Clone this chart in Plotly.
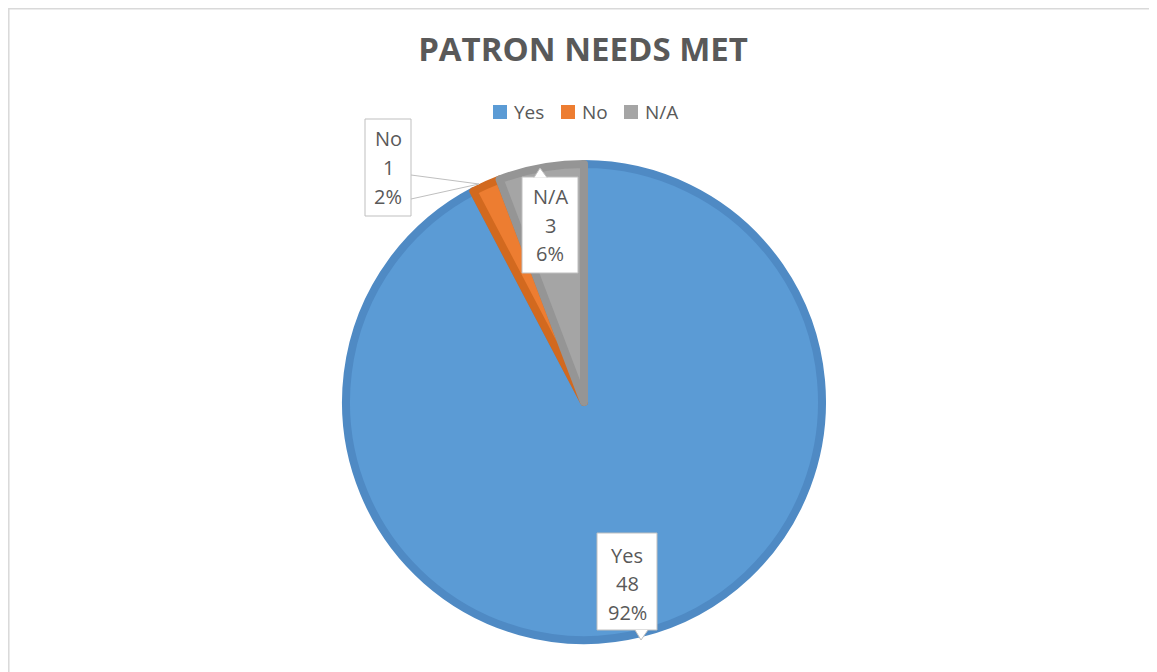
import plotly.graph_objects as go

# ---- data ----
labels = ["Yes", "No", "N/A"]
values = [48, 1, 3]
colors = ["#5B9BD5", "#ED7D31", "#A5A5A5"]
edge_colors = ["#4F8AC4", "#D2691F", "#959595"]
title_text = "PATRON NEEDS MET"

# ---- layout helpers (page pixel -> paper; page has an 8px body margin) ----
W, H = 1157, 672
OFF = 8
def px(x):
    return (x - OFF) / W
def py(y):
    return 1 - (y - OFF) / H

cx, cy, R = 584, 402, 242
bw = 8
r = R - bw / 2

fig = go.Figure(go.Pie(
    labels=labels, values=values, sort=False, direction="clockwise", rotation=0,
    marker=dict(colors=colors, line=dict(color=edge_colors, width=bw)),
    textinfo="none", hoverinfo="label+value+percent", showlegend=False,
    domain=dict(x=[px(cx - r), px(cx + r)], y=[py(cy + r), py(cy - r)]),
))

txt_color = "#595959"
border = "#BFBFBF"
shapes = []
annotations = []

# legend (drawn from labels/colors)
legend_x = [493, 561, 624]
for lab, col, lx in zip(labels, colors, legend_x):
    shapes.append(dict(type="rect", xref="paper", yref="paper",
                       x0=px(lx), x1=px(lx + 14), y0=py(119), y1=py(105),
                       line=dict(width=0), fillcolor=col, layer="above"))
    annotations.append(dict(text=lab, x=px(lx + 19), y=py(112), xref="paper", yref="paper",
                            showarrow=False, xanchor="left", yanchor="middle",
                            font=dict(family="Open Sans", size=19, color=txt_color)))

# label boxes (x0, y0, x1, y1 in page pixels)
boxes = {
    "Yes": (597, 533, 657, 630),
    "No": (365, 119, 411, 216),
    "N/A": (522, 177, 578, 273),
}
total = sum(values)
for lab, val in zip(labels, values):
    x0, y0, x1, y1 = boxes[lab]
    shapes.append(dict(type="rect", xref="paper", yref="paper",
                       x0=px(x0), x1=px(x1), y0=py(y1), y1=py(y0),
                       line=dict(color=border, width=1), fillcolor="white", layer="above"))
    pct = f"{round(100 * val / total)}%"
    ymid = (y0 + y1) / 2 + (2 if lab == "Yes" else 0)
    for i, t in enumerate([lab, str(val), pct]):
        annotations.append(dict(text=t, x=px((x0 + x1) / 2), y=py(ymid + (i - 1) * 28.5),
                                xref="paper", yref="paper", showarrow=False,
                                xanchor="center", yanchor="middle",
                                font=dict(family="Open Sans", size=20, color=txt_color)))

def path(pts, close=False):
    s = "M " + " L ".join(f"{px(x)},{py(y)}" for x, y in pts)
    return s + (" Z" if close else "")

# pointers / leader
shapes.append(dict(type="path", xref="paper", yref="paper", path=path([(635, 630), (641, 640), (648, 630)]),
                   line=dict(color=border, width=1), fillcolor="white", layer="above"))
shapes.append(dict(type="path", xref="paper", yref="paper", path=path([(534, 177.5), (540, 168), (547, 177.5)]),
                   line=dict(color=border, width=1), fillcolor="white", layer="above"))
shapes.append(dict(type="path", xref="paper", yref="paper", path=path([(411, 175), (479, 184), (411, 199)]),
                   line=dict(color=border, width=1), fillcolor="rgba(0,0,0,0)", layer="above"))
# chart frame
shapes.append(dict(type="rect", xref="paper", yref="paper", x0=px(8.8), x1=px(1300), y0=py(900), y1=py(8.8),
                   line=dict(color="#D9D9D9", width=1.5), fillcolor="rgba(0,0,0,0)", layer="below"))

fig.update_layout(
    width=W, height=H,
    margin=dict(l=0, r=0, t=0, b=0),
    paper_bgcolor="white", plot_bgcolor="white",
    title=dict(text=title_text, x=px(583), xanchor="center", y=py(49), yanchor="middle",
               font=dict(family="Open Sans", size=33, color=txt_color, weight="bold")),
    showlegend=False,
    shapes=shapes, annotations=annotations,
)

fig.write_html("out.html")
